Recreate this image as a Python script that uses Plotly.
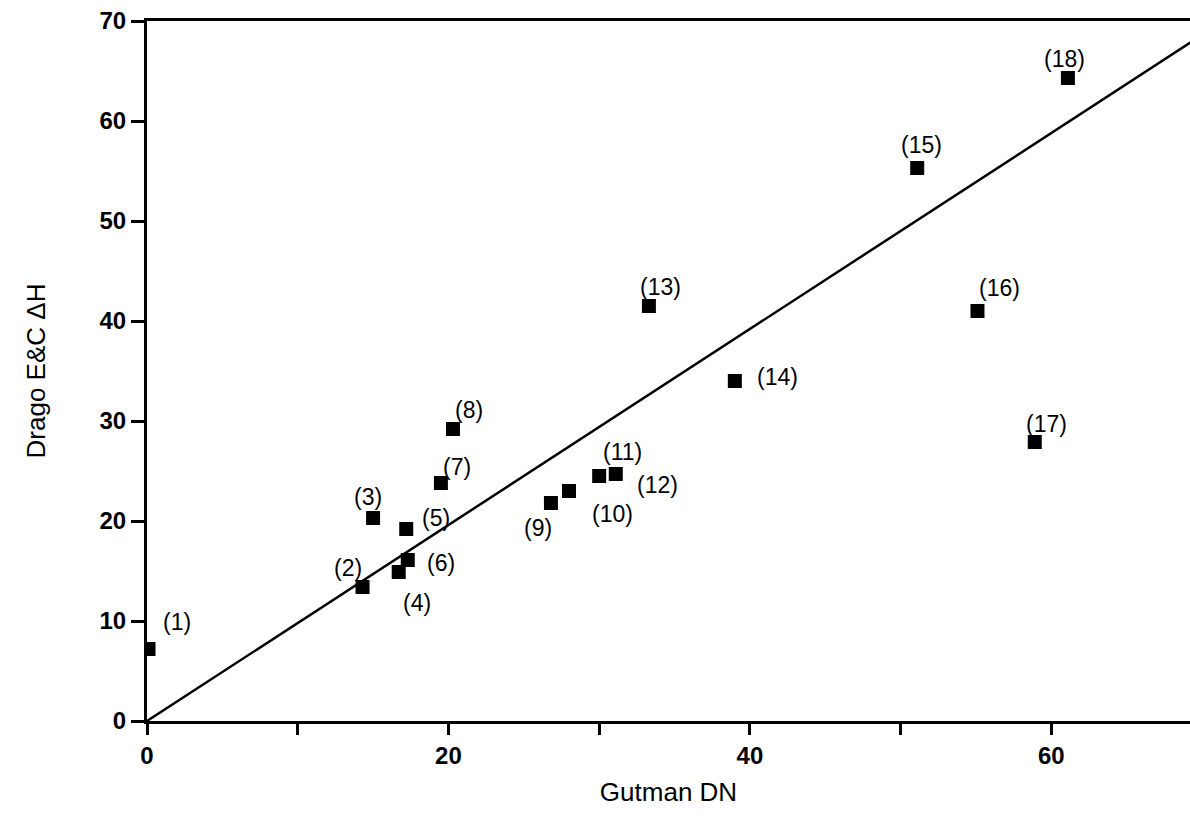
import plotly.graph_objects as go

# Data
labels = ["(1)", "(2)", "(3)", "(4)", "(5)", "(6)", "(7)", "(8)", "(9)",
          "(10)", "(11)", "(12)", "(13)", "(14)", "(15)", "(16)", "(17)", "(18)"]
gutman_dn = [0.1, 14.3, 15.0, 16.7, 17.2, 17.3, 19.5, 20.3, 26.8,
             28.0, 30.0, 31.1, 33.3, 39.0, 51.1, 55.1, 58.9, 61.1]
drago_dh = [7.2, 13.4, 20.3, 14.9, 19.2, 16.1, 23.8, 29.2, 21.8,
            23.0, 24.5, 24.7, 41.5, 34.0, 55.3, 41.0, 27.9, 64.3]

fit_x = [0, 70]
fit_y = [0, 68.6]

x_tickvals = [0, 10, 20, 30, 40, 50, 60]
x_ticktext = ["0", "", "20", "", "40", "", "60"]
y_tickvals = [0, 10, 20, 30, 40, 50, 60, 70]

# label offsets in pixels (dx, dy up)
label_dx = [28, -15, -5, 18, 30, 33, 16, 16, -13, 43, 23, 42, 12, 43, 4, 22, 12, -3]
label_dy = [27, 19, 21, -31, 11, -3, 16, 19, -25, -23, 24, -11, 19, 4, 23, 23, 18, 19]

FONT = "Liberation Sans, Arial, Helvetica, sans-serif"

fig = go.Figure()
fig.add_trace(go.Scatter(x=fit_x, y=fit_y, mode="lines",
                         line=dict(color="black", width=2.5),
                         showlegend=False, hoverinfo="skip"))
fig.add_trace(go.Scatter(x=gutman_dn, y=drago_dh, mode="markers",
                         marker=dict(symbol="square", size=14, color="black"),
                         showlegend=False))

for lab, x, y, dx, dy in zip(labels, gutman_dn, drago_dh, label_dx, label_dy):
    fig.add_annotation(x=x, y=y, text=lab, showarrow=False,
                       xshift=dx, yshift=dy,
                       font=dict(family=FONT, size=23, color="black"))

fig.update_layout(
    width=1190, height=823,
    margin=dict(l=147, r=0, t=21, b=102),
    plot_bgcolor="white", paper_bgcolor="white",
    font=dict(family=FONT, color="black"),
    xaxis=dict(range=[0, 69.2], showgrid=False, zeroline=False,
               showline=True, linecolor="black", linewidth=3, mirror=True,
               ticks="outside", ticklen=11, tickwidth=3, tickcolor="black",
               tickvals=x_tickvals, ticktext=x_ticktext,
               tickfont=dict(family=FONT, size=24, weight="bold"),
               title=dict(text="Gutman DN", standoff=16,
                          font=dict(family=FONT, size=26))),
    yaxis=dict(range=[0, 70], showgrid=False, zeroline=False,
               showline=True, linecolor="black", linewidth=3, mirror=False,
               ticks="outside", ticklen=13, tickwidth=3, tickcolor="black",
               tickvals=y_tickvals,
               tickfont=dict(family=FONT, size=24, weight="bold"),
               title=dict(text="Drago E&C ΔH", standoff=47,
                          font=dict(family=FONT, size=26))),
)

fig.write_html("out.html")
